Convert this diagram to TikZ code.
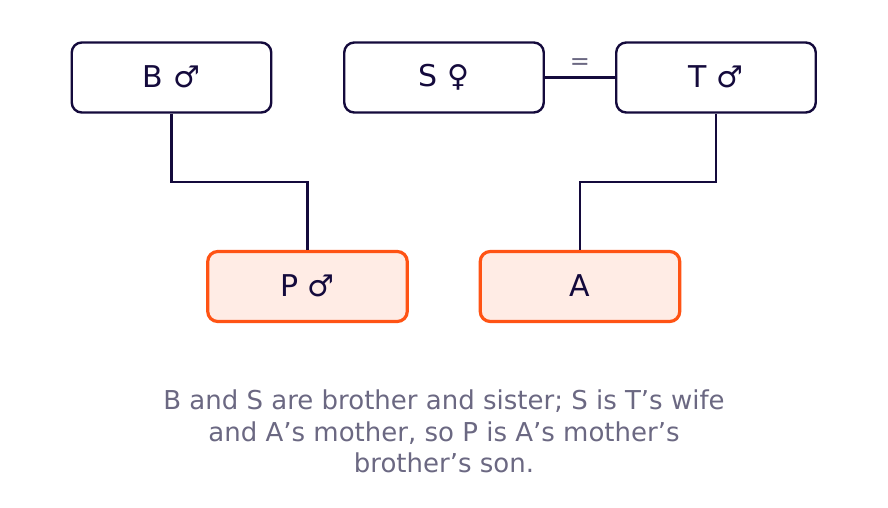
\documentclass[tikz,border=0pt]{standalone}
\usepackage{fontspec}
\setmainfont{DejaVu Sans}
\definecolor{ink}{HTML}{140A3C}
\definecolor{orng}{HTML}{FF5314}
\definecolor{peach}{HTML}{FFECE5}
\definecolor{capgray}{HTML}{6B6882}
\begin{document}
\begin{tikzpicture}[x=1pt,y=-1pt,
  person/.style={draw=ink,line width=2.4pt,rounded corners=10pt,fill=white,
    minimum width=199.5pt,minimum height=70pt,inner sep=0pt,
    font=\fontsize{30}{34}\selectfont,text=ink},
  target/.style={person,draw=orng,fill=peach,line width=3.2pt},
  link/.style={draw=ink,line width=2.4pt}]
\useasboundingbox (0,0) rectangle (888,507);
\node[person] (B) at (171.5,77.5) {\raisebox{1.5pt}{B ♂}};
\node[person] (S) at (444,77.5) {\raisebox{1.5pt}{S ♀}};
\node[person] (T) at (716,77.5) {\raisebox{1.5pt}{T ♂}};
\node[target] (P) at (307.5,286.5) {\raisebox{1.5pt}{P ♂}};
\node[target] (A) at (580,286.5) {\raisebox{1.5pt}{A}};
\draw[link] (S.east) -- (T.west) node[midway,above=3pt,text=capgray,font=\fontsize{24}{28}\selectfont] (eq) {=};
\draw[link] (B.south) |- (239.5,182) -| (P.north);
\draw[link] (T.south) |- (648,182) -| (A.north);
\node[text=capgray,align=center,font=\fontsize{26}{31.5}\selectfont] (cap) at (444,431.5)
  {B and S are brother and sister; S is T’s wife\\and A’s mother, so P is A’s mother’s\\brother’s son.};
\end{tikzpicture}
\end{document}
